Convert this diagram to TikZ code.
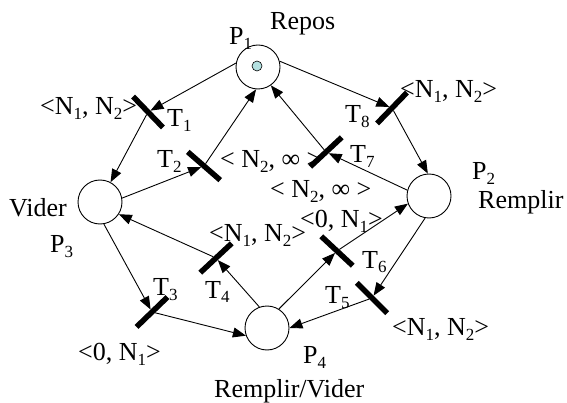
\documentclass[tikz,border=0pt]{standalone}
\usepackage{fontspec}
\setmainfont{Liberation Serif}
\usetikzlibrary{arrows.meta}
\newcommand\sbs[1]{\lower5pt\hbox{\fontsize{17}{17}\selectfont #1}}
\definecolor{tokcol}{RGB}{180,225,225}
\begin{document}
\begin{tikzpicture}[x=1pt,y=-1pt,
  place/.style={circle,draw,line width=0.9pt,minimum size=44pt,inner sep=0pt},
  bar/.style={fill=black,minimum width=43pt,minimum height=5.5pt,inner sep=0pt,outer sep=0pt},
  arc/.style={line width=0.9pt,-{Triangle[length=13pt,width=10pt]}},
  lbl/.style={font=\fontsize{26}{30}\selectfont,inner sep=0pt,anchor=base west}]
\useasboundingbox (0,0) rectangle (567,403);
% places
\node[place] (P1) at (258,67) {};
\node[place] (P2) at (429,196) {};
\node[place] (P3) at (100,202) {};
\node[place] (P4) at (267,328) {};
\node[circle,draw,fill=tokcol,minimum size=10pt,inner sep=0pt,line width=0.6pt] (tok) at (257,66) {};
% transitions
\node[bar,rotate=-46] (T1) at (148,112) {};
\node[bar,rotate=-41] (T2) at (204,166) {};
\node[bar,rotate=44] (T3) at (152,312) {};
\node[bar,rotate=43] (T4) at (216,258) {};
\node[bar,rotate=-45] (T5) at (372,298) {};
\node[bar,rotate=-43] (T6) at (337,251) {};
\node[bar,rotate=43] (T7) at (326,152) {};
\node[bar,rotate=46] (T8) at (392,108) {};
% arcs
\draw[arc] (P1.170) -- (T1);
\draw[arc] (T1) -- (P3);
\draw[arc] (P3.10) -- (T2);
\draw[arc] (T2) -- (P1.-95);
\draw[arc] (P2.165) -- (T7);
\draw[arc] (T7) -- (P1.-55);
\draw[arc] (P1.15) -- (T8);
\draw[arc] (T8) -- (P2.93);
\draw[arc] (P3.-80) -- (T3);
\draw[arc] (T3) -- (P4.200);
\draw[arc] (P4.110) -- (T4);
\draw[arc] (T4) -- (P3.-33);
\draw[arc] (P4.58) -- (T6);
\draw[arc] (T6) -- (P2.200);
\draw[arc] (P2.-100) -- (T5);
\draw[arc] (T5) -- (P4.0);
% labels
\node[lbl] (lRepos) at (270,30) {Repos};
\node[lbl] (lP1) at (229,45) {P\sbs{1}};
\node[lbl] (lP2) at (472,180) {P\sbs{2}};
\node[lbl] (lRemplir) at (478,209) {Remplir};
\node[lbl] (lVider) at (9,217) {Vider};
\node[lbl] (lP3) at (50,253) {P\sbs{3}};
\node[lbl] (lP4) at (303,363) {P\sbs{4}};
\node[lbl] (lRV) at (214,397) {Remplir/Vider};
\node[lbl] (lT1) at (167,127) {T\sbs{1}};
\node[lbl] (lT2) at (157,168) {T\sbs{2}};
\node[lbl] (lT3) at (153,295) {T\sbs{3}};
\node[lbl] (lT4) at (205,298) {T\sbs{4}};
\node[lbl] (lT5) at (325,303) {T\sbs{5}};
\node[lbl] (lT6) at (362,268) {T\sbs{6}};
\node[lbl] (lT7) at (350,163) {T\sbs{7}};
\node[lbl] (lT8) at (345,123) {T\sbs{8}};
\node[lbl] (w1) at (40,115) {<N\sbs{1}, N\sbs{2}>};
\node[lbl] (w8) at (400,98) {<N\sbs{1}, N\sbs{2}>};
\node[lbl] (w2) at (220,168) {< N\sbs{2}, ∞ >};
\node[lbl] (w7) at (270,198) {< N\sbs{2}, ∞ >};
\node[lbl] (w6) at (300,228) {<0, N\sbs{1}>};
\node[lbl] (w4) at (209,242) {<N\sbs{1}, N\sbs{2}>};
\node[lbl] (w3) at (78,360) {<0, N\sbs{1}>};
\node[lbl] (w5) at (392,335) {<N\sbs{1}, N\sbs{2}>};
\end{tikzpicture}
\end{document}
